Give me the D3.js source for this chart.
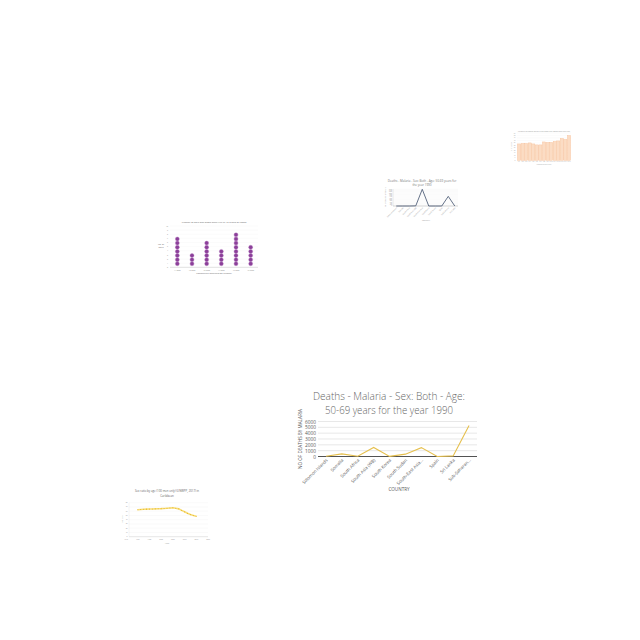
<!DOCTYPE html>
<html><head><meta charset="utf-8">
<script src="https://cdn.jsdelivr.net/npm/d3@7"></script>
<style>html,body{margin:0;padding:0;background:#fff;}svg{display:block;}</style>
</head><body>
<script>
// ---- Main chart data ----
const malariaCountries = ["Solomon Islands","Somalia","South Africa","South Asia (WB)","South Korea","South Sudan","South-East Asia...","Spain","Sri Lanka","Sub-Saharan..."];
const malariaDeaths = [30, 450, 50, 1550, 20, 400, 1520, 10, 100, 5300];
const malariaTicks = [0,1000,2000,3000,4000,5000,6000];

// ---- Small blue line chart ----
const blueCountries = ["Solomon Islands","Somalia","South Africa","South Asia (WB)","South-East Asia","South Korea","South Sudan","Spain","Sub-Saharan","Sri Lanka"];
const blueValues = [0, 0, 0, 20, 2600, 0, 0, 0, 1500, 0];

// ---- Purple dot chart ----
const purpleCats = ["11 2020","12 2020","13 2020","14 2020","15 2020","16 2020"];
const purpleCounts = [7, 3, 6, 4, 8, 5];

// ---- Peach bar chart ----
const barValues = [33, 34, 34, 35, 33, 31, 31, 37, 36, 36, 38, 39, 44, 42, 50];

// ---- Sex ratio line chart ----
const sexYears = [1960,1965,1970,1975,1980,1985,1990,1995,2000,2005,2010,2015,2020,2025,2030,2035,2040,2045,2050,2055,2060];
const sexRatio = [63.5,64,64.5,64.8,65,65.3,65.5,65.8,66,66.5,67,67.5,68,67,65.5,62,58.5,55,52,50,48];
const sexTicks = [1940,1960,1980,2000,2020,2040,2060,2080];

const W = 640, H = 640;
const svg = d3.select("body").append("svg").attr("width", W).attr("height", H);
svg.append("rect").attr("width", W).attr("height", H).attr("fill", "#ffffff");
const FONT = "'Open Sans', 'Liberation Sans', sans-serif";
const TXT = "#595959";

// ================= MAIN CHART =================
(function(){
  const g = svg.append("g");
  const x = d3.scaleBand().domain(malariaCountries).range([318, 477]);
  const y = d3.scaleLinear().domain([0, 6000]).range([456.5, 421.5]);
  g.append("text").attr("x", 389).attr("y", 399.5).attr("text-anchor","middle")
    .attr("font-family", FONT).attr("font-size", 11.5).attr("font-weight", 300).attr("fill", "#666")
    .attr("textLength", 152).attr("lengthAdjust", "spacingAndGlyphs")
    .text("Deaths - Malaria - Sex: Both - Age:");
  g.append("text").attr("x", 389).attr("y", 413.5).attr("text-anchor","middle")
    .attr("font-family", FONT).attr("font-size", 11.5).attr("font-weight", 300).attr("fill", "#666")
    .attr("textLength", 128).attr("lengthAdjust", "spacingAndGlyphs")
    .text("50-69 years for the year 1990");
  g.selectAll("line.grid").data(malariaTicks.filter(t=>t>0)).join("line")
    .attr("x1", 318).attr("x2", 477).attr("y1", d=>y(d)).attr("y2", d=>y(d))
    .attr("stroke", "#d9d9d9").attr("stroke-width", 0.6);
  const yAxis = d3.axisLeft(y).tickValues(malariaTicks).tickFormat(d3.format("d")).tickSize(0).tickPadding(2);
  const ya = g.append("g").attr("transform","translate(318,0)").call(yAxis);
  ya.select(".domain").remove();
  ya.selectAll("text").attr("font-family", FONT).attr("font-size", 4.8).attr("fill", TXT);
  g.append("line").attr("x1",318).attr("x2",477).attr("y1",y(0)).attr("y2",y(0))
    .attr("stroke","#404040").attr("stroke-width",0.9);
  const line = d3.line().x((d,i)=>x(malariaCountries[i]) + x.bandwidth()/2).y(d=>y(d));
  g.append("path").datum(malariaDeaths).attr("d", line).attr("fill","none")
    .attr("stroke","#e6c04e").attr("stroke-width",1.1);
  const xa = g.append("g").attr("transform",`translate(0,${y(0)})`)
    .call(d3.axisBottom(x).tickSize(0).tickPadding(0));
  xa.select(".domain").remove();
  xa.selectAll("text").attr("font-family", FONT).attr("font-size", 4.4).attr("fill", TXT)
    .attr("text-anchor","end").attr("dy", 0).attr("transform","translate(2,4) rotate(-45)");
  g.append("text").attr("x", 399).attr("y", 491).attr("text-anchor","middle")
    .attr("font-family", FONT).attr("font-size", 4.6).attr("fill", TXT).text("COUNTRY");
  g.append("text").attr("transform","translate(302,439) rotate(-90)").attr("text-anchor","middle")
    .attr("font-family", FONT).attr("font-size", 4.6).attr("fill", TXT).text("NO OF DEATHS BY MALARIA");
})();

// ================= PEACH BAR CHART =================
(function(){
  const g = svg.append("g");
  const idx = barValues.map((d,i)=>i);
  const x = d3.scaleBand().domain(idx).range([517, 571]).padding(0.12);
  const y = d3.scaleLinear().domain([0, 55]).range([160.3, 133]);
  g.append("text").attr("x", 544).attr("y", 131.5).attr("text-anchor","middle")
    .attr("font-family", FONT).attr("font-size", 1.8).attr("fill", "#999")
    .text("Number of bodies found in the water per month over the year");
  const ticks = d3.range(0, 56, 5);
  g.selectAll("line.gr").data(ticks).join("line").attr("x1",517).attr("x2",571)
    .attr("y1",d=>y(d)).attr("y2",d=>y(d)).attr("stroke","#f1f1f1").attr("stroke-width",0.3);
  g.selectAll("text.yt").data(ticks).join("text").attr("x",515.5).attr("y",d=>y(d)+0.5)
    .attr("text-anchor","end").attr("font-family",FONT).attr("font-size",1.6).attr("fill","#aaa").text(d=>d);
  g.selectAll("rect").data(barValues).join("rect")
    .attr("x",(d,i)=>x(i)).attr("width",x.bandwidth()).attr("y",d=>y(d)).attr("height",d=>y(0)-y(d))
    .attr("fill","#fbdcc4").attr("stroke","#f5b98e").attr("stroke-width",0.35);
  g.selectAll("text.xt").data(idx).join("text").attr("x",i=>x(i)+x.bandwidth()/2).attr("y",162)
    .attr("text-anchor","middle").attr("font-family",FONT).attr("font-size",1.5).attr("fill","#aaa").text(i=>"M"+(i+1));
  g.append("text").attr("x",544).attr("y",164.5).attr("text-anchor","middle").attr("font-family",FONT)
    .attr("font-size",1.7).attr("fill","#aaa").text("Months of the year");
  g.append("text").attr("transform","translate(512,147) rotate(-90)").attr("text-anchor","middle")
    .attr("font-family",FONT).attr("font-size",1.6).attr("fill","#aaa").text("No. of bodies");
})();

// ================= BLUE LINE CHART =================
(function(){
  const g = svg.append("g");
  const x = d3.scaleBand().domain(blueCountries).range([393, 458]);
  const y = d3.scaleLinear().domain([0, 2600]).range([206, 189.3]);
  g.append("text").attr("x",422).attr("y",182).attr("text-anchor","middle").attr("font-family",FONT)
    .attr("font-size",3).attr("fill","#777").text("Deaths - Malaria - Sex: Both - Age: 50-69 years for");
  g.append("text").attr("x",422).attr("y",186).attr("text-anchor","middle").attr("font-family",FONT)
    .attr("font-size",3).attr("fill","#777").text("the year 1990");
  const ticks = d3.range(0, 2601, 200);
  g.selectAll("line.gr").data(ticks).join("line").attr("x1",393).attr("x2",458)
    .attr("y1",d=>y(d)).attr("y2",d=>y(d)).attr("stroke","#f0f0f0").attr("stroke-width",0.3);
  g.selectAll("text.yt").data(ticks).join("text").attr("x",392).attr("y",d=>y(d)+0.4)
    .attr("text-anchor","end").attr("font-family",FONT).attr("font-size",1.3).attr("fill","#999").text(d=>d);
  g.append("line").attr("x1",393).attr("x2",458).attr("y1",y(0)).attr("y2",y(0)).attr("stroke","#999").attr("stroke-width",0.4);
  g.append("line").attr("x1",393).attr("x2",393).attr("y1",189).attr("y2",y(0)).attr("stroke","#bbb").attr("stroke-width",0.3);
  const line = d3.line().x((d,i)=>x(blueCountries[i])+x.bandwidth()/2).y(d=>y(d));
  g.append("path").datum(blueValues).attr("d",line).attr("fill","none").attr("stroke","#3f4f6b").attr("stroke-width",0.8);
  g.selectAll("text.xt").data(blueCountries).join("text")
    .attr("transform",d=>`translate(${x(d)+x.bandwidth()/2+1},${208}) rotate(-45)`)
    .attr("text-anchor","end").attr("font-family",FONT).attr("font-size",1.8).attr("fill","#999").text(d=>d);
  g.append("text").attr("x",426).attr("y",220.5).attr("text-anchor","middle").attr("font-family",FONT)
    .attr("font-size",2.2).attr("fill","#999").text("Country");
  g.append("text").attr("transform","translate(386,197) rotate(-90)").attr("text-anchor","middle")
    .attr("font-family",FONT).attr("font-size",1.8).attr("fill","#999").text("No. of deaths by malaria");
})();

// ================= PURPLE DOT CHART =================
(function(){
  const g = svg.append("g");
  const x = d3.scaleBand().domain(purpleCats).range([170, 258]);
  const y = d3.scaleLinear().domain([0, 10]).range([267.3, 226]);
  g.append("text").attr("x",214).attr("y",222.5).attr("text-anchor","middle").attr("font-family",FONT)
    .attr("font-size",2.3).attr("fill","#666").text("Number of Days with Blood Sight WFP by 10 Group of Nodes");
  const ticks = d3.range(0, 11, 1);
  g.selectAll("line.gr").data(ticks).join("line").attr("x1",170).attr("x2",258)
    .attr("y1",d=>y(d)).attr("y2",d=>y(d)).attr("stroke","#f0f0f0").attr("stroke-width",0.3);
  g.selectAll("text.yt").data(ticks).join("text").attr("x",168).attr("y",d=>y(d)+0.6)
    .attr("text-anchor","end").attr("font-family",FONT).attr("font-size",1.8).attr("fill","#888").text(d=>d);
  g.append("line").attr("x1",170).attr("x2",258).attr("y1",y(0)).attr("y2",y(0)).attr("stroke","#bbb").attr("stroke-width",0.4);
  const dots = [];
  purpleCats.forEach((c,i)=>{ for(let k=1;k<=purpleCounts[i];k++) dots.push({c, k}); });
  g.selectAll("circle").data(dots).join("circle")
    .attr("cx",d=>x(d.c)+x.bandwidth()/2).attr("cy",d=>y(d.k)+0.6).attr("r",2)
    .attr("fill","#8b3f99").attr("stroke","#b57cc0").attr("stroke-width",0.4);
  g.selectAll("text.xt").data(purpleCats).join("text").attr("x",d=>x(d)+x.bandwidth()/2).attr("y",270.5)
    .attr("text-anchor","middle").attr("font-family",FONT).attr("font-size",1.8).attr("fill","#888").text(d=>d);
  g.append("text").attr("x",214).attr("y",274).attr("text-anchor","middle").attr("font-family",FONT)
    .attr("font-size",2.2).attr("fill","#666").text("Consecutive identification Number");
  g.append("text").attr("x",161).attr("y",245).attr("text-anchor","middle").attr("font-family",FONT)
    .attr("font-size",2.2).attr("fill","#666").text("No. of");
  g.append("text").attr("x",161).attr("y",248).attr("text-anchor","middle").attr("font-family",FONT)
    .attr("font-size",2.2).attr("fill","#666").text("Days");
})();

// ================= SEX RATIO LINE CHART =================
(function(){
  const g = svg.append("g");
  const x = d3.scaleLinear().domain([1940, 2080]).range([126, 208]);
  const y = d3.scaleLinear().domain([0, 80]).range([536.7, 502.7]);
  g.append("text").attr("x",167).attr("y",492).attr("text-anchor","middle").attr("font-family",FONT)
    .attr("font-size",2.8).attr("fill","#666").text("Sex ratio by age (100 men only) (UNWPP, 2017) in");
  g.append("text").attr("x",167).attr("y",496.5).attr("text-anchor","middle").attr("font-family",FONT)
    .attr("font-size",2.8).attr("fill","#666").text("Caribbean");
  const ticks = d3.range(0, 81, 10);
  g.selectAll("line.gr").data(ticks).join("line").attr("x1",129).attr("x2",208)
    .attr("y1",d=>y(d)).attr("y2",d=>y(d)).attr("stroke","#efefef").attr("stroke-width",0.3);
  g.selectAll("text.yt").data(ticks).join("text").attr("x",127.5).attr("y",d=>y(d)+0.5)
    .attr("text-anchor","end").attr("font-family",FONT).attr("font-size",1.6).attr("fill","#999").text(d=>d);
  g.append("line").attr("x1",129).attr("x2",208).attr("y1",y(0)).attr("y2",y(0)).attr("stroke","#ccc").attr("stroke-width",0.4);
  g.append("line").attr("x1",129).attr("x2",129).attr("y1",y(80)).attr("y2",y(0)).attr("stroke","#ddd").attr("stroke-width",0.3);
  g.selectAll("text.xt").data(sexTicks).join("text").attr("x",d=>x(d)).attr("y",540)
    .attr("text-anchor","middle").attr("font-family",FONT).attr("font-size",1.6).attr("fill","#999").text(d=>d);
  const line = d3.line().x((d,i)=>x(sexYears[i])).y(d=>y(d));
  g.append("path").datum(sexRatio).attr("d",line).attr("fill","none").attr("stroke","#f7dc7a").attr("stroke-width",1.6);
  g.selectAll("circle").data(sexRatio).join("circle").attr("cx",(d,i)=>x(sexYears[i])).attr("cy",d=>y(d))
    .attr("r",0.55).attr("fill","#e8b923");
  g.append("text").attr("x",167).attr("y",543.5).attr("text-anchor","middle").attr("font-family",FONT)
    .attr("font-size",1.7).attr("fill","#999").text("Years");
  g.append("text").attr("transform","translate(123,519) rotate(-90)").attr("text-anchor","middle")
    .attr("font-family",FONT).attr("font-size",1.7).attr("fill","#999").text("Sex ratio");
})();
</script>
</body></html>
